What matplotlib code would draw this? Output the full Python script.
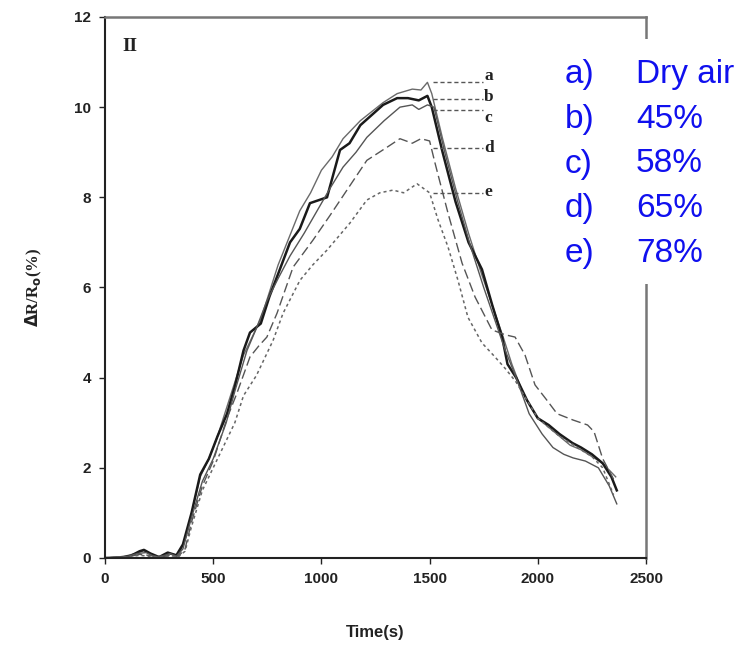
"""Relative resistance change vs time under different humidity levels (panel II)."""
import matplotlib
matplotlib.use("Agg")
import matplotlib.pyplot as plt
from matplotlib.patches import Rectangle

# ---- data ----
t_a = [0, 60, 100, 140, 180, 220, 260, 300, 340, 370, 400, 440, 480, 520, 560, 600,
       640, 680, 720, 760, 800, 850, 900, 950, 1000, 1050, 1100, 1180, 1285, 1350,
       1420, 1460, 1490, 1510, 1560, 1620, 1680, 1740, 1790, 1840, 1880, 1920, 1960,
       2000, 2050, 2100, 2150, 2200, 2250, 2300, 2340, 2360]
v_a = [0, 0.02, 0.05, 0.1, 0.16, 0.05, 0.02, 0.1, 0.05, 0.4, 1.0, 1.8, 2.2, 2.7, 3.3, 3.9,
       4.5, 4.9, 5.3, 5.9, 6.5, 7.1, 7.7, 8.1, 8.6, 8.9, 9.3, 9.7, 10.1, 10.3,
       10.4, 10.38, 10.55, 10.3, 9.3, 8.2, 7.2, 6.3, 5.6, 4.9, 4.3, 3.8, 3.4,
       3.1, 2.9, 2.7, 2.5, 2.4, 2.25, 2.1, 1.9, 1.8]

t_b = [0, 80, 120, 160, 180, 210, 250, 290, 330, 360, 400, 440, 480, 520, 564, 600,
       640, 670, 720, 760, 800, 855, 900, 947, 1026, 1086, 1130, 1180, 1285, 1350,
       1400, 1450, 1490, 1510, 1560, 1620, 1680, 1742, 1790, 1835, 1860, 1900, 1950,
       2000, 2050, 2100, 2160, 2200, 2250, 2300, 2340, 2365]
v_b = [0, 0.01, 0.05, 0.15, 0.18, 0.1, 0.02, 0.12, 0.06, 0.3, 1.0, 1.85, 2.2, 2.7, 3.2, 3.8,
       4.6, 5.0, 5.2, 5.8, 6.3, 7.0, 7.3, 7.87, 8.0, 9.05, 9.2, 9.6, 10.05, 10.2,
       10.2, 10.15, 10.25, 10.0, 9.0, 7.9, 7.0, 6.4, 5.6, 4.9, 4.3, 4.0, 3.5,
       3.1, 2.95, 2.75, 2.55, 2.45, 2.3, 2.1, 1.8, 1.5]

t_c = [0, 100, 150, 190, 230, 270, 300, 330, 360, 400, 450, 500, 560, 600, 656, 700,
       748, 800, 855, 920, 980, 1040, 1100, 1160, 1210, 1290, 1363, 1420, 1450, 1490,
       1520, 1570, 1630, 1690, 1750, 1800, 1850, 1900, 1960, 2020, 2070, 2120, 2163,
       2220, 2280, 2330, 2365]
v_c = [0, 0.03, 0.1, 0.12, 0.03, 0.05, 0.1, 0.04, 0.2, 0.9, 1.7, 2.2, 3.0, 3.7, 4.6, 5.1,
       5.7, 6.2, 6.7, 7.2, 7.7, 8.2, 8.67, 9.0, 9.33, 9.7, 10.0, 10.05, 9.95, 10.05,
       10.0, 9.0, 7.9, 6.9, 6.0, 5.3, 4.6, 4.0, 3.2, 2.75, 2.45, 2.3, 2.22,
       2.15, 2.0, 1.6, 1.2]

t_d = [0, 100, 160, 200, 260, 300, 340, 370, 400, 450, 500, 564, 610, 670, 710, 748,
       795, 869, 961, 1040, 1118, 1210, 1300, 1363, 1420, 1460, 1500, 1525, 1585, 1650,
       1710, 1788, 1850, 1895, 1941, 1987, 2042, 2089, 2163, 2230, 2260, 2280, 2300,
       2350]
v_d = [0, 0.02, 0.08, 0.06, 0.02, 0.06, 0.04, 0.2, 0.8, 1.6, 2.15, 3.1, 3.66, 4.46, 4.7, 4.9,
       5.43, 6.45, 7.05, 7.6, 8.16, 8.82, 9.1, 9.3, 9.2, 9.3, 9.25, 8.76, 7.65, 6.54,
       5.79, 5.06, 4.95, 4.9, 4.5, 3.84, 3.5, 3.2, 3.06, 2.95, 2.8, 2.5, 2.2,
       1.75]

t_e = [0, 100, 160, 200, 260, 300, 340, 370, 400, 450, 500, 560, 600, 640, 700, 777,
       823, 901, 960, 1026, 1132, 1210, 1270, 1331, 1380, 1442, 1500, 1539, 1585, 1631,
       1677, 1742, 1802, 1850, 1900, 1950, 2000, 2050, 2100, 2150, 2200, 2250, 2300,
       2350]
v_e = [0, 0.02, 0.06, 0.04, 0.02, 0.05, 0.03, 0.15, 0.7, 1.5, 2.0, 2.6, 3.0, 3.6, 4.05, 4.83,
       5.43, 6.16, 6.5, 6.83, 7.43, 7.94, 8.1, 8.16, 8.1, 8.3, 8.1, 7.5, 6.9, 6.16,
       5.34, 4.77, 4.46, 4.2, 3.9, 3.5, 3.1, 2.9, 2.7, 2.55, 2.4, 2.25, 2.0,
       1.4]

curve_labels = ["a", "b", "c", "d", "e"]
leader_levels = [10.55, 10.18, 9.93, 9.1, 8.1]
label_levels = [10.7, 10.22, 9.76, 9.1, 8.12]
legend_keys = ["a)", "b)", "c)", "d)", "e)"]
legend_names = ["Dry air", "45%", "58%", "65%", "78%"]

# ---- figure ----
fig = plt.figure(figsize=(7.51, 6.48), dpi=100)
ax = fig.add_axes([0.1398, 0.1389, 0.7204, 0.8349])

ax.plot(t_a, v_a, color="#6a6a6a", lw=1.0)
ax.plot(t_b, v_b, color="#1a1a1a", lw=1.8)
ax.plot(t_c, v_c, color="#555555", lw=1.0)
ax.plot(t_d, v_d, color="#555555", lw=1.0, dashes=(7, 3))
ax.plot(t_e, v_e, color="#666666", lw=1.1, dashes=(2, 2))

# leader lines to the curve letters
for lab, lvl, ty in zip(curve_labels, leader_levels, label_levels):
    ax.plot([1515, 1745], [lvl, lvl], color="#555555", lw=1.0, dashes=(3, 2))
    ax.text(1752, ty, lab, ha="left", va="center", fontsize=12.5, fontweight="bold",
            family="Liberation Serif", color="#222222")

ax.text(80, 11.35, "II", ha="left", va="center", fontsize=14, fontweight="bold",
        family="Liberation Serif", color="#222222")

ax.set_xlim(0, 2500)
ax.set_ylim(0, 12)
ax.set_xticks([0, 500, 1000, 1500, 2000, 2500])
ax.set_yticks([0, 2, 4, 6, 8, 10, 12])
ax.tick_params(direction="out", length=4, width=1.0, labelsize=11, pad=6,
               colors="#222222")
for lbl in ax.get_xticklabels() + ax.get_yticklabels():
    lbl.set_fontweight("bold")
    lbl.set_family("Liberation Sans")

for side in ["left", "bottom"]:
    ax.spines[side].set_color("#222222")
    ax.spines[side].set_linewidth(1.5)
for side in ["top", "right"]:
    ax.spines[side].set_color("#777777")
    ax.spines[side].set_linewidth(1.8)

ax.set_xlabel("Time(s)", fontsize=12, fontweight="bold", family="Liberation Sans",
              labelpad=28, color="#222222")
ax.set_ylabel(r"$\mathbf{\Delta}$R/R$_\mathbf{o}$(%)", fontsize=12, fontweight="bold",
              family="Liberation Serif", labelpad=22, color="#222222")

# white panel with blue legend text over the top-right corner
fig.patches.append(Rectangle((555 / 751, 1 - 284 / 648), 196 / 751, 245 / 648,
                             transform=fig.transFigure, facecolor="white",
                             edgecolor="none", zorder=5))
for i, (k, name) in enumerate(zip(legend_keys, legend_names)):
    y = 1 - (75 + i * 44.5) / 648
    fig.text(565 / 751, y, k, fontsize=24, color="#1010ee", family="Liberation Sans",
             va="center", ha="left", zorder=6)
    fig.text(636 / 751, y, name, fontsize=24, color="#1010ee", family="Liberation Sans",
             va="center", ha="left", zorder=6)

fig.savefig("out.png", dpi=100)
